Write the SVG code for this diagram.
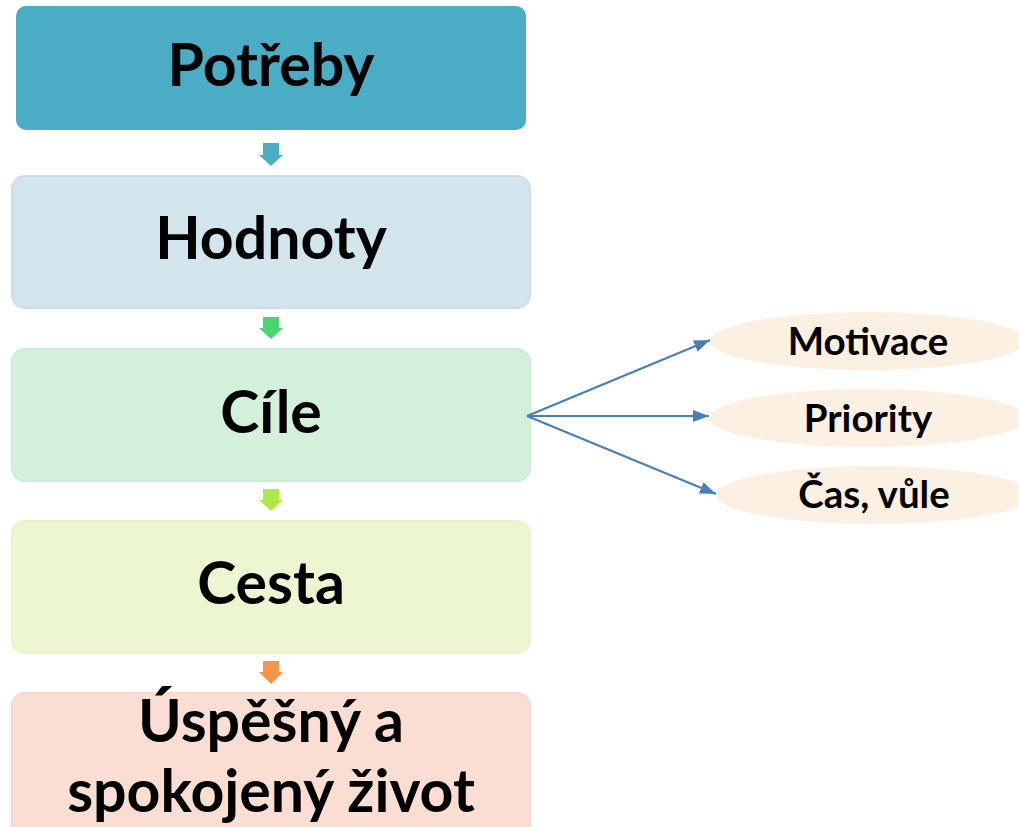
<svg xmlns="http://www.w3.org/2000/svg" width="1019" height="827" viewBox="0 0 1019 827">
<style>
.lbl{font-family:Lato,"Liberation Sans",sans-serif;font-weight:700;font-size:59px;fill:#000;text-anchor:middle}
.sm{font-family:Lato,"Liberation Sans",sans-serif;font-weight:700;font-size:38.5px;fill:#000;text-anchor:middle}
.conn{stroke:#4A7EBB;stroke-width:2.2;fill:none}
.ell{fill:#FBF0E2}
</style>
<defs>
<marker id="ah" markerWidth="16" markerHeight="12" refX="16" refY="6" orient="auto" markerUnits="userSpaceOnUse">
<path d="M0,0 L16,6 L0,12 Z" fill="#4A7EBB"/>
</marker>
</defs>
<rect width="1019" height="827" fill="#fff"/>
<g id="potreby">
<rect x="16" y="6" width="510" height="124" rx="10" fill="#4BACC6"/>
<text class="lbl" x="271" y="86">Potřeby</text>
</g>
<g id="hodnoty">
<rect x="12" y="176" width="518" height="132" rx="13" fill="#D3E5EC" stroke="#CBDFE7" stroke-width="2"/>
<text class="lbl" x="271" y="259">Hodnoty</text>
</g>
<g id="cile">
<rect x="12" y="349" width="518" height="132" rx="13" fill="#D3F0DB" stroke="#CCEDD5" stroke-width="2"/>
<text class="lbl" x="271" y="433">Cíle</text>
</g>
<g id="cesta">
<rect x="12" y="521" width="518" height="132" rx="13" fill="#ECF7D2" stroke="#E7F5CB" stroke-width="2"/>
<text class="lbl" x="271" y="604">Cesta</text>
</g>
<g id="zivot">
<rect x="12" y="693" width="518" height="150" rx="13" fill="#FBDED3" stroke="#F8D9CD" stroke-width="2"/>
<text class="lbl" x="271" y="742">Úspěšný a</text>
<text class="lbl" x="271" y="812">spokojený život</text>
</g>
<g id="motivace">
<ellipse class="ell" cx="868" cy="341" rx="158" ry="29"/>
<text class="sm" x="868" y="355">Motivace</text>
</g>
<g id="priority">
<ellipse class="ell" cx="868" cy="418" rx="159" ry="29"/>
<text class="sm" x="868" y="432">Priority</text>
</g>
<g id="casvule">
<ellipse class="ell" cx="874" cy="495" rx="158" ry="29"/>
<text class="sm" x="874" y="508">Čas, vůle</text>
</g>
<g id="connectors">
<path d="M263,143 H279 V155 H283 L271,166 L259,155 H263 Z" fill="#4BACC6"/>
<path d="M263,317 H279 V328 H283 L271,339 L259,328 H263 Z" fill="#4AD66F"/>
<path d="M263,489 H279 V500 H283 L271,511 L259,500 H263 Z" fill="#ADEA45"/>
<path d="M263,661 H279 V672 H283 L271,684 L259,672 H263 Z" fill="#F79646"/>
<line class="conn" x1="527" y1="416" x2="710" y2="340" marker-end="url(#ah)"/>
<line class="conn" x1="527" y1="416" x2="709" y2="416" marker-end="url(#ah)"/>
<line class="conn" x1="527" y1="416" x2="716" y2="494" marker-end="url(#ah)"/>
</g>
</svg>
